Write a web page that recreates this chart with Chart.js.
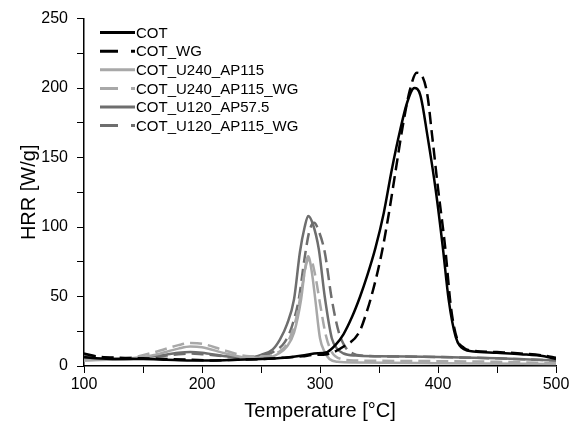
<!DOCTYPE html>
<html>
<head>
<meta charset="utf-8">
<script src="https://cdn.jsdelivr.net/npm/chart.js@4.4.1/dist/chart.umd.min.js"></script>
<style>
  body { margin: 0; background: #fff; }
  #wrap { width: 573px; height: 429px; }
</style>
</head>
<body>
<div id="wrap"><canvas id="hrr" width="573" height="429"></canvas></div>
<script>
// HRR curves (temperature in °C, HRR in W/g)
const COT_T = [100, 110, 130, 150, 170, 190, 210, 230, 250, 270, 285, 295, 306, 313, 320, 327, 334, 340, 347, 354, 361, 368, 374, 380, 385, 391, 398, 404, 409, 415, 422, 430, 450, 470, 490, 500];
const COT_V = [6.5, 5.5, 5, 5, 4.5, 4, 4, 4.5, 5, 6, 7.5, 9, 10, 15, 23, 35, 50, 65, 85, 110, 142, 170, 190, 200, 195, 166, 127, 86, 48, 21, 12, 10.5, 9.5, 8.5, 7, 5];

const COTWG_T = [100, 110, 130, 150, 170, 190, 210, 230, 250, 270, 285, 295, 306, 320, 333, 340, 346, 352, 358, 364, 370, 376, 382, 387, 391, 395, 400, 406, 411, 416, 422, 430, 450, 470, 490, 500];
const COTWG_V = [9, 7, 6, 5.5, 5, 4.5, 4, 4.5, 5, 6, 7, 8, 8.5, 14, 24, 40, 58, 80, 108, 140, 172, 198, 211, 208, 195, 166, 128, 86, 42, 20, 13, 11, 10, 9, 7.5, 6];

const U240_T = [100, 120, 140, 160, 180, 190, 200, 220, 240, 255, 265, 272, 278, 284, 287, 290, 293, 296, 300, 304, 308, 315, 330, 400, 500];
const U240_V = [4, 4.5, 5, 8, 12.5, 14, 13.5, 9, 6, 6, 9, 14, 24, 48, 68, 79, 68, 48, 20, 10, 5, 3, 2.5, 2, 1.5];

const U240WG_T = [100, 120, 140, 160, 180, 190, 200, 220, 240, 255, 265, 272, 280, 285, 289, 292, 296, 300, 305, 310, 318, 330, 400, 450, 500];
const U240WG_V = [4, 5, 6, 10, 15, 16.5, 16, 11, 7, 7, 10, 16, 35, 58, 75, 77, 65, 45, 22, 10, 5, 4, 3.5, 3, 2];

const U120_T = [100, 120, 140, 160, 180, 190, 200, 220, 240, 250, 260, 266, 272, 278, 283, 287, 290, 294, 299, 304, 310, 315, 320, 330, 350, 400, 450, 500];
const U120_V = [5, 5, 5.5, 7, 9.5, 10, 9.5, 7, 6, 8, 12, 19, 30, 48, 82, 100, 108, 102, 84, 50, 20, 12, 9, 7.5, 7, 6.5, 5.5, 4];

const U120WG_T = [100, 120, 140, 160, 180, 190, 200, 220, 240, 250, 260, 270, 276, 282, 287, 291, 295, 299, 304, 310, 316, 322, 328, 335, 350, 400, 450, 500];
const U120WG_V = [8, 6, 5.5, 6.5, 8.5, 9, 8.5, 7, 6, 7, 10, 17, 28, 48, 78, 97, 103, 97, 82, 48, 24, 13, 9, 7.5, 7, 6.5, 5.5, 4];

const LABELS = ['COT', 'COT_WG', 'COT_U240_AP115', 'COT_U240_AP115_WG', 'COT_U120_AP57.5', 'COT_U120_AP115_WG'];
const COLORS = ['#000000', '#000000', '#a8a8a8', '#a8a8a8', '#6e6e6e', '#6e6e6e'];
const DASHED = [false, true, false, true, false, true];

const SERIES = [[COT_T, COT_V], [COTWG_T, COTWG_V], [U240_T, U240_V], [U240WG_T, U240WG_V], [U120_T, U120_V], [U120WG_T, U120WG_V]];

const FONT = "'Liberation Sans', Arial, sans-serif";

// legend drawn inside the plot, top-left, like the original figure
const insideLegend = {
    id: 'insideLegend',
    afterDraw(chart) {
        const ctx = chart.ctx;
        const a = chart.chartArea;
        ctx.save();
        ctx.font = '15px ' + FONT;
        ctx.textBaseline = 'middle';
        chart.data.datasets.forEach((ds, i) => {
            const y = a.top + 14 + i * 18.6;
            const x0 = a.left + 16;
            ctx.strokeStyle = ds.borderColor;
            ctx.lineWidth = 3;
            ctx.setLineDash(DASHED[i] ? [18, 13] : []);
            ctx.beginPath();
            ctx.moveTo(x0, y);
            ctx.lineTo(x0 + 35, y);
            ctx.stroke();
            ctx.setLineDash([]);
            ctx.fillStyle = '#000';
            ctx.fillText(ds.label, x0 + 36, y + 1);
        });
        ctx.restore();
    }
};

const datasets = SERIES.map((s, i) => ({
    label: LABELS[i],
    data: s[0].map((t, j) => ({ x: t, y: s[1][j] })),
    borderColor: COLORS[i],
    borderWidth: 2.5,
    borderDash: DASHED[i] ? [12, 6] : [],
    pointRadius: 0,
    cubicInterpolationMode: 'monotone',
    fill: false
}));

new Chart(document.getElementById('hrr'), {
    type: 'line',
    data: { datasets },
    options: {
        responsive: false,
        animation: false,
        layout: { padding: { top: 15, right: 17, left: 17, bottom: 6 } },
        plugins: { legend: { display: false }, tooltip: { enabled: false } },
        scales: {
            x: {
                type: 'linear', min: 100, max: 500,
                afterFit: s => { s.height = 57; },
                ticks: {
                    stepSize: 50, color: '#000', padding: 2, maxRotation: 0,
                    font: { family: FONT, size: 16 },
                    callback: v => (v % 100 === 0 ? v : '')
                },
                grid: { drawOnChartArea: false, drawTicks: true, tickLength: 7, color: '#000' },
                border: { color: '#000', width: 1.5 },
                title: { display: true, text: 'Temperature [°C]', color: '#000', font: { family: FONT, size: 20 }, padding: { top: 5, bottom: 0 } }
            },
            y: {
                min: 0, max: 250,
                afterFit: s => { s.width = 67; },
                ticks: {
                    stepSize: 25, color: '#000', padding: 9,
                    font: { family: FONT, size: 16 },
                    callback: v => (v % 50 === 0 ? v : '')
                },
                grid: { drawOnChartArea: false, drawTicks: true, tickLength: 7, color: '#000' },
                border: { color: '#000', width: 1.5 },
                title: { display: true, text: 'HRR [W/g]', color: '#000', font: { family: FONT, size: 20 }, padding: { top: 0, bottom: 0 } }
            }
        }
    },
    plugins: [insideLegend]
});
</script>
</body>
</html>
